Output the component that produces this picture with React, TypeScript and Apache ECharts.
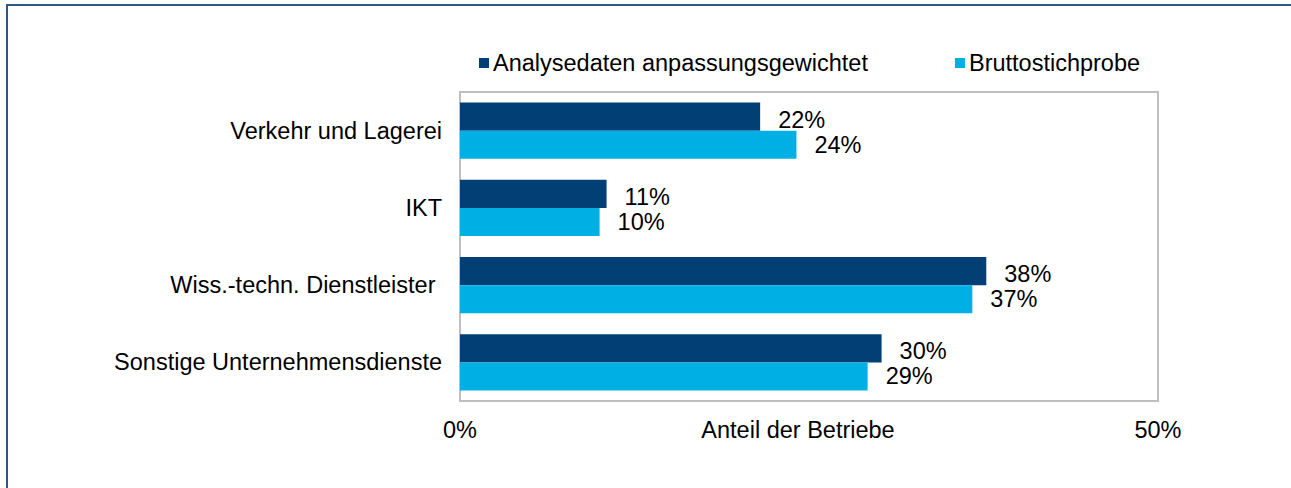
import React, { useEffect, useRef } from "react";
import * as echarts from "echarts";

const categories = [
  "Verkehr und Lagerei",
  "IKT",
  "Wiss.-techn. Dienstleister ",
  "Sonstige Unternehmensdienste",
];
const seriesNames = ["Analysedaten anpassungsgewichtet", "Bruttostichprobe"];
const analysedaten = [21.5, 10.5, 37.7, 30.2];
const brutto = [24.1, 10.0, 36.7, 29.2];
const xTicks = [0, 50];

const FONT = "'Liberation Sans', Arial, Helvetica, sans-serif";
const FS = 23.5;

export default function App() {
  const ref = useRef<HTMLDivElement>(null);
  useEffect(() => {
    if (!ref.current) return;
    const chart = echarts.init(ref.current, undefined, { renderer: "svg" });
    const labelFmt = (p: any) => Math.round(p.value) + "%";
    chart.setOption({
      animation: false,
      backgroundColor: "#ffffff",
      textStyle: { fontFamily: FONT },
      graphic: [
        {
          type: "rect",
          shape: { x: 7, y: 5, width: 1400, height: 600 },
          style: { fill: "none", stroke: "#2e5686", lineWidth: 2 },
          silent: true,
        },
      ],
      legend: {
        left: 474,
        top: 46,
        itemWidth: 10,
        itemHeight: 10,
        itemGap: 87,
        icon: "rect",
        textStyle: { fontSize: FS, color: "#000", fontFamily: FONT, padding: [0, 0, 0, -1] },
        data: seriesNames,
      },
      grid: {
        left: 460,
        right: 133,
        top: 92,
        bottom: 87,
        show: true,
        borderColor: "#bfbfbf",
        borderWidth: 2,
        containLabel: false,
      },
      xAxis: {
        type: "value",
        min: xTicks[0],
        max: xTicks[1],
        interval: xTicks[1] - xTicks[0],
        axisLine: { show: false },
        axisTick: { show: false },
        splitLine: { show: false },
        axisLabel: {
          formatter: "{value}%",
          fontSize: FS,
          color: "#000",
          margin: 17,
          fontFamily: FONT,
        },
        name: "Anteil der Betriebe",
        nameLocation: "middle",
        nameGap: 17,
        nameMoveOverlap: false,
        nameTextStyle: {
          fontSize: FS,
          color: "#000",
          fontFamily: FONT,
          verticalAlign: "top",
          padding: [0, 22, 0, 0],
        },
      },
      yAxis: {
        type: "category",
        inverse: true,
        data: categories,
        axisLine: { show: false },
        axisTick: { show: false },
        splitLine: { show: false },
        axisLabel: {
          fontSize: FS,
          color: "#000",
          margin: 18,
          fontFamily: FONT,
        },
      },
      series: [
        {
          name: seriesNames[0],
          type: "bar",
          data: analysedaten,
          barGap: "0%",
          barCategoryGap: "27.5%",
          itemStyle: { color: "#023f75" },
          label: {
            show: true,
            position: "right",
            distance: 18,
            offset: [0, 3],
            formatter: labelFmt,
            fontSize: FS,
            color: "#000",
            fontFamily: FONT,
          },
        },
        {
          name: seriesNames[1],
          type: "bar",
          data: brutto,
          barGap: "0%",
          barCategoryGap: "27.5%",
          itemStyle: { color: "#00b0e4" },
          label: {
            show: true,
            position: "right",
            distance: 18,
            formatter: labelFmt,
            fontSize: FS,
            color: "#000",
            fontFamily: FONT,
          },
        },
      ],
    });
    return () => chart.dispose();
  }, []);
  return (
    <div
      ref={ref}
      style={{ position: "fixed", left: 0, top: 0, width: 1291, height: 488 }}
    />
  );
}
